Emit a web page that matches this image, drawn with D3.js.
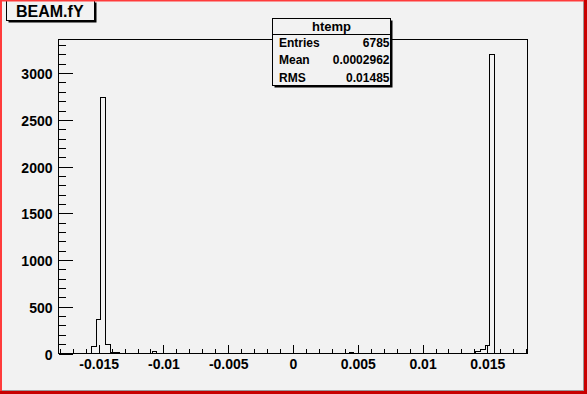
<!DOCTYPE html>
<html>
<head>
<meta charset="utf-8">
<script src="https://cdn.jsdelivr.net/npm/d3@7"></script>
<style>
  html, body { margin: 0; padding: 0; background: #f2f2f2; }
  svg { display: block; font-family: "Liberation Sans", Arial, sans-serif; }
</style>
</head>
<body>
<svg id="chart" width="587" height="394"></svg>
<script>
// histogram binning (TTree::Draw default, 100 bins)
const xMin = -0.0181
const xMax = 0.0181
const nBins = 100

// bin contents of BEAM.fY
const binCounts = [
  0, 0, 0, 0, 0, 0, 0, 70, 365, 2740,
  100, 15, 8, 0, 0, 0, 0, 0, 0, 0,
  18, 0, 0, 0, 0, 0, 0, 0, 0, 0,
  0, 0, 0, 0, 0, 0, 0, 0, 0, 0,
  0, 0, 0, 0, 0, 0, 0, 0, 0, 0,
  0, 0, 0, 0, 0, 0, 0, 0, 0, 0,
  0, 0, 8, 0, 0, 0, 0, 0, 0, 0,
  0, 0, 0, 0, 0, 0, 0, 0, 0, 0,
  0, 0, 0, 0, 0, 0, 0, 5, 0, 22,
  45, 88, 3200, 0, 0, 0, 0, 0, 0, 0
]

const xMajorTicks = [-0.015, -0.01, -0.005, 0, 0.005, 0.01, 0.015]
const xTickLabels = ["-0.015", "-0.01", "-0.005", "0", "0.005", "0.01", "0.015"]
const xMinorTicks = [-0.018, -0.017, -0.016, -0.015, -0.014, -0.013, -0.012, -0.011, -0.01,
  -0.009, -0.008, -0.007, -0.006, -0.005, -0.004, -0.003, -0.002, -0.001, 0,
  0.001, 0.002, 0.003, 0.004, 0.005, 0.006, 0.007, 0.008, 0.009, 0.01,
  0.011, 0.012, 0.013, 0.014, 0.015, 0.016, 0.017, 0.018]

const yMajorTicks = [0, 500, 1000, 1500, 2000, 2500, 3000]
const yTickLabels = ["0", "500", "1000", "1500", "2000", "2500", "3000"]
const yMinorTicks = d3.range(0, 3301, 100)
const yMax = 3360

const statsTitle = "htemp"
const statsNames = ["Entries", "Mean", "RMS"]
const statsValues = ["6785", "0.0002962", "0.01485"]
const histTitle = "BEAM.fY"

const svg = d3.select("#chart")
const W = 587, H = 394
const frame = { left: 58.5, right: 527.5, top: 39.5, bottom: 353.5 }

const x = d3.scaleLinear().domain([xMin, xMax]).range([frame.left, frame.right])
const y = d3.scaleLinear().domain([0, yMax]).range([frame.bottom, frame.top])

svg.append("rect").attr("width", W).attr("height", H).attr("fill", "#f2f2f2")

// frame
svg.append("rect")
  .attr("x", frame.left).attr("y", frame.top)
  .attr("width", frame.right - frame.left).attr("height", frame.bottom - frame.top)
  .attr("fill", "#f2f2f2").attr("stroke", "#000").attr("stroke-width", 1)

// histogram outline
const binW = (xMax - xMin) / nBins
const pts = [[xMin, 0]]
binCounts.forEach((c, i) => {
  pts.push([xMin + i * binW, c])
  pts.push([xMin + (i + 1) * binW, c])
})
pts.push([xMax, 0])

svg.append("path")
  .attr("d", d3.line().x(d => x(d[0])).y(d => y(d[1]))(pts))
  .attr("fill", "none")
  .attr("stroke", "#000")
  .attr("stroke-width", 1)
  .attr("shape-rendering", "crispEdges")

// x axis: ticks point into the frame
const xMinorAxis = svg.append("g")
  .attr("transform", `translate(0,${frame.bottom})`)
  .call(d3.axisBottom(x).tickValues(xMinorTicks).tickSize(-4.5).tickFormat(""))
const xMajorAxis = svg.append("g")
  .attr("transform", `translate(0,${frame.bottom})`)
  .call(d3.axisBottom(x).tickValues(xMajorTicks).tickSize(-9).tickPadding(5.5)
    .tickFormat((d, i) => xTickLabels[i]))

// y axis
const yMinorAxis = svg.append("g")
  .attr("transform", `translate(${frame.left},0)`)
  .call(d3.axisLeft(y).tickValues(yMinorTicks).tickSize(-7).tickFormat(""))
const yMajorAxis = svg.append("g")
  .attr("transform", `translate(${frame.left},0)`)
  .call(d3.axisLeft(y).tickValues(yMajorTicks).tickSize(-14).tickPadding(6)
    .tickFormat((d, i) => yTickLabels[i]))

;[xMinorAxis, xMajorAxis, yMinorAxis, yMajorAxis].forEach(g => {
  g.select(".domain").remove()
  g.selectAll("line").attr("stroke", "#000").attr("shape-rendering", "crispEdges")
  g.selectAll("text")
    .attr("fill", "#000")
    .attr("font-size", 14)
    .attr("font-weight", "bold")
    .attr("font-family", "'Liberation Sans', Arial, sans-serif")
})
yMajorAxis.selectAll("text").attr("dy", "0.4em")

// title box with shadow
const tb = { x: 6.5, y: 0.5, w: 88, h: 20 }
svg.append("rect")
  .attr("x", tb.x + 2).attr("y", tb.y + 2).attr("width", tb.w).attr("height", tb.h)
  .attr("fill", "#000")
svg.append("rect")
  .attr("x", tb.x).attr("y", tb.y).attr("width", tb.w).attr("height", tb.h)
  .attr("fill", "#f2f2f2").attr("stroke", "#000")
svg.append("text")
  .attr("x", 16).attr("y", 17)
  .attr("font-size", 16).attr("font-weight", "bold")
  .text(histTitle)

// stats box
const sb = { x: 272.5, y: 18.5, w: 118, h: 67 }
svg.append("rect")
  .attr("x", sb.x + 2).attr("y", sb.y + 2).attr("width", sb.w).attr("height", sb.h)
  .attr("fill", "#000")
svg.append("rect")
  .attr("x", sb.x).attr("y", sb.y).attr("width", sb.w).attr("height", sb.h)
  .attr("fill", "#f2f2f2").attr("stroke", "#000")
svg.append("line")
  .attr("x1", sb.x).attr("x2", sb.x + sb.w)
  .attr("y1", 34.5).attr("y2", 34.5)
  .attr("stroke", "#000")
svg.append("text")
  .attr("x", sb.x + sb.w / 2).attr("y", 31)
  .attr("text-anchor", "middle")
  .attr("font-size", 13).attr("font-weight", "bold")
  .text(statsTitle)

const rowY = [46.5, 63.5, 82]
statsNames.forEach((name, i) => {
  svg.append("text")
    .attr("x", 279).attr("y", rowY[i])
    .attr("font-size", 12).attr("font-weight", "bold")
    .text(name)
  svg.append("text")
    .attr("x", 389.5).attr("y", rowY[i])
    .attr("text-anchor", "end")
    .attr("font-size", 12).attr("font-weight", "bold")
    .text(statsValues[i])
})

// canvas border (selected pad highlight + bevel)
svg.append("line").attr("x1", 583.5).attr("x2", 583.5).attr("y1", 0).attr("y2", 391)
  .attr("stroke", "#999")
svg.append("line").attr("x1", 0).attr("x2", 584).attr("y1", 390.5).attr("y2", 390.5)
  .attr("stroke", "#999")
svg.append("rect").attr("x", 0).attr("y", 0).attr("width", 2).attr("height", H).attr("fill", "#ff3b3b")
svg.append("rect").attr("x", 0).attr("y", 0).attr("width", W).attr("height", 1.5).attr("fill", "#ff3b3b")
svg.append("rect").attr("x", 584).attr("y", 0).attr("width", 3).attr("height", H).attr("fill", "#c80000")
svg.append("rect").attr("x", 0).attr("y", 391).attr("width", W).attr("height", 3).attr("fill", "#c80000")
</script>
</body>
</html>
